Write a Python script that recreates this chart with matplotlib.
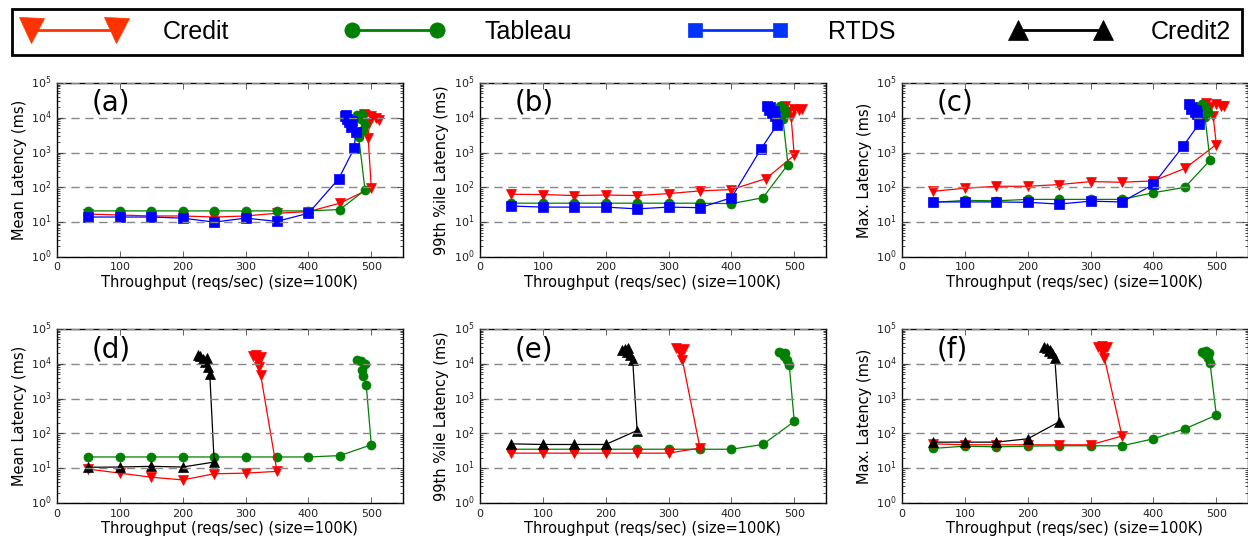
import matplotlib
matplotlib.use('Agg')
import matplotlib.pyplot as plt
from matplotlib.lines import Line2D

# ---- data (throughput reqs/sec, latency ms) ----
steps7 = [50, 100, 150, 200, 250, 300, 350]
steps8 = steps7 + [400]

# (a) mean latency
credit_a_x = steps8 + [450, 500, 495, 497, 490, 507, 513, 500, 488]
credit_a_y = [17, 16, 15, 15, 14, 15, 18, 20, 35, 96, 2600, 7000, 12000, 9500, 8500, 11000, 13000]
tableau_a_x = steps8 + [450, 490, 480, 487, 490, 483, 478, 485]
tableau_a_y = [21, 21, 21, 21, 21, 21, 21, 21, 23, 83, 2800, 4500, 6500, 9000, 12000, 12500]
rtds_a_x = steps8 + [448, 473, 475, 468, 465, 462, 458, 460, 470]
rtds_a_y = [14, 14, 14, 13, 10, 13, 10.5, 18, 175, 1350, 3900, 5500, 7500, 9000, 11500, 12000, 8000]

# (b) 99th percentile
credit_b_x = steps8 + [455, 500, 495, 490, 485, 500, 508, 513]
credit_b_y = [63, 62, 58, 60, 58, 66, 79, 86, 178, 830, 10500, 15000, 22000, 18000, 17000, 18000]
tableau_b_x = steps8 + [450, 490, 482, 486, 480, 484, 478]
tableau_b_y = [35, 35, 35, 35, 35, 35, 35, 34, 50, 450, 9000, 14000, 20000, 18000, 22000]
rtds_b_x = steps8 + [447, 472, 470, 465, 460, 456, 462, 468]
rtds_b_y = [29, 27, 27, 27, 24, 27, 26, 50, 1260, 6000, 11000, 14000, 17000, 22000, 20000, 16000]

# (c) max latency
credit_c_x = steps8 + [450, 500, 495, 490, 483, 500, 508, 513]
credit_c_y = [77, 94, 107, 107, 120, 146, 140, 153, 350, 1700, 11000, 20000, 26000, 24000, 22000, 22000]
tableau_c_x = steps8 + [450, 490, 482, 486, 480, 484, 478]
tableau_c_y = [37, 42, 41, 45, 45, 45, 45, 70, 100, 600, 10500, 15000, 22000, 18000, 25000]
rtds_c_x = steps8 + [447, 472, 470, 466, 460, 456, 462, 468]
rtds_c_y = [38, 38, 38, 37, 33, 40, 38, 122, 1500, 6500, 13000, 15000, 18000, 25000, 20000, 17000]

# (d) mean latency
tableau_d_x = steps8 + [450, 500, 492, 487, 485, 490, 483, 478]
tableau_d_y = [21, 21, 21, 21, 21, 21, 21, 21, 23, 47, 2400, 4600, 6600, 10000, 12000, 12500]
credit_d_x = steps7 + [324, 322, 320, 318, 312, 325, 316]
credit_d_y = [9.4, 7.2, 5.5, 4.6, 6.9, 7.2, 8.1, 4800, 8000, 11000, 14000, 17000, 16000, 18000]
credit2_d_x = [50, 100, 150, 200, 250, 243, 240, 236, 232, 228, 224, 238]
credit2_d_y = [10.6, 10.8, 11.3, 10.8, 15, 5100, 8000, 11000, 14000, 17000, 18000, 15000]

# (e) 99th percentile
tableau_e_x = steps8 + [450, 500, 492, 488, 484, 480, 476, 486]
tableau_e_y = [35, 35, 35, 35, 35, 35, 35, 35, 48, 220, 9300, 13000, 17000, 20000, 22000, 21000]
credit_e_x = [50, 100, 150, 200, 250, 300, 350, 322, 320, 316, 312, 325, 318]
credit_e_y = [27, 27, 27, 27, 27, 27, 38, 13000, 20000, 25000, 28000, 27000, 22000]
credit2_e_x = [50, 100, 150, 200, 250, 243, 238, 234, 230, 226, 236]
credit2_e_y = [50, 48, 48, 48, 121, 12500, 18000, 22000, 27000, 25000, 28000]

# (f) max latency
tableau_f_x = steps8 + [450, 500, 490, 486, 482, 478, 484, 488]
tableau_f_y = [37, 43, 41, 43, 44, 44, 44, 70, 135, 335, 10400, 15000, 19000, 22000, 24000, 21000]
credit_f_x = [50, 100, 150, 200, 250, 300, 350, 322, 320, 316, 312, 326, 318]
credit_f_y = [50, 47, 47, 47, 47, 47, 84, 14500, 22000, 27000, 31000, 30000, 32000]
credit2_f_x = [50, 100, 150, 200, 250, 243, 238, 234, 230, 226, 236]
credit2_f_y = [56, 56, 56, 70, 215, 15000, 20000, 24000, 28000, 30000, 25000]

STYLE = {
    'Credit': dict(color='#ff0000', marker='v'),
    'Tableau': dict(color='#008000', marker='o'),
    'RTDS': dict(color='#0000ff', marker='s'),
    'Credit2': dict(color='black', marker='^'),
}

panels = [
    ('(a)', 'Mean Latency (ms)', [('Credit', credit_a_x, credit_a_y), ('Tableau', tableau_a_x, tableau_a_y), ('RTDS', rtds_a_x, rtds_a_y)]),
    ('(b)', '99th %ile Latency (ms)', [('Credit', credit_b_x, credit_b_y), ('Tableau', tableau_b_x, tableau_b_y), ('RTDS', rtds_b_x, rtds_b_y)]),
    ('(c)', 'Max. Latency (ms)', [('Credit', credit_c_x, credit_c_y), ('Tableau', tableau_c_x, tableau_c_y), ('RTDS', rtds_c_x, rtds_c_y)]),
    ('(d)', 'Mean Latency (ms)', [('Tableau', tableau_d_x, tableau_d_y), ('Credit', credit_d_x, credit_d_y), ('Credit2', credit2_d_x, credit2_d_y)]),
    ('(e)', '99th %ile Latency (ms)', [('Tableau', tableau_e_x, tableau_e_y), ('Credit', credit_e_x, credit_e_y), ('Credit2', credit2_e_x, credit2_e_y)]),
    ('(f)', 'Max. Latency (ms)', [('Tableau', tableau_f_x, tableau_f_y), ('Credit', credit_f_x, credit_f_y), ('Credit2', credit2_f_x, credit2_f_y)]),
]

plt.style.use('classic')
plt.rcParams['font.family'] = 'DejaVu Sans'
plt.rcParams['mathtext.default'] = 'regular'

fig = plt.figure(figsize=(12.48, 5.42), dpi=100, facecolor='white')

lefts = [0.0457, 0.3846, 0.7228]
bottoms = [0.526, 0.072]
w, h = 0.277, 0.321

for i, (tag, ylab, series) in enumerate(panels):
    ax = fig.add_axes([lefts[i % 3], bottoms[i // 3], w, h])
    for name, xs, ys in series:
        st = STYLE[name]
        ax.plot(xs, ys, color=st['color'], marker=st['marker'], markersize=6.5,
                markeredgecolor=st['color'], linewidth=0.9)
    ax.set_yscale('log')
    ax.set_ylim(1, 1e5)
    ax.set_xlim(0, 550)
    ax.set_xticks([0, 100, 200, 300, 400, 500])
    ax.yaxis.grid(True, which='major', color='#888888', linestyle=(0, (6, 4)), linewidth=1)
    ax.xaxis.grid(False)
    ax.tick_params(labelsize=8, direction='in', colors='#222222')
    ax.set_xlabel('Throughput (reqs/sec) (size=100K)', fontsize=10.5, labelpad=2)
    ax.set_ylabel(ylab, fontsize=10.5, labelpad=3)
    ax.text(0.10, 0.885, tag, transform=ax.transAxes, fontsize=20,
            ha='left', va='center')
    ax.set_facecolor('white')

handles = [
    Line2D([0], [0], color='#ff3300', marker='v', markersize=18, linewidth=2, markeredgecolor='#ff3300'),
    Line2D([0], [0], color='#008000', marker='o', markersize=11, linewidth=2, markeredgecolor='#008000'),
    Line2D([0], [0], color='#0033ff', marker='s', markersize=10, linewidth=2, markeredgecolor='#0033ff'),
    Line2D([0], [0], color='black', marker='^', markersize=15, linewidth=2, markeredgecolor='black'),
]
leg = fig.legend(handles, ['Credit', 'Tableau', 'RTDS', 'Credit2'],
                 loc='lower left', bbox_to_anchor=(0.0096, 0.8985, 0.9854, 0.094),
                 mode='expand', ncol=4, numpoints=2, handlelength=4.0,
                 handletextpad=1.6, borderaxespad=0, borderpad=0.45,
                 fancybox=False, frameon=True,
                 prop={'family': 'Liberation Sans', 'size': 18})
leg.get_frame().set_edgecolor('black')
leg.get_frame().set_linewidth(2)

fig.savefig('out.png', dpi=100, facecolor='white')
